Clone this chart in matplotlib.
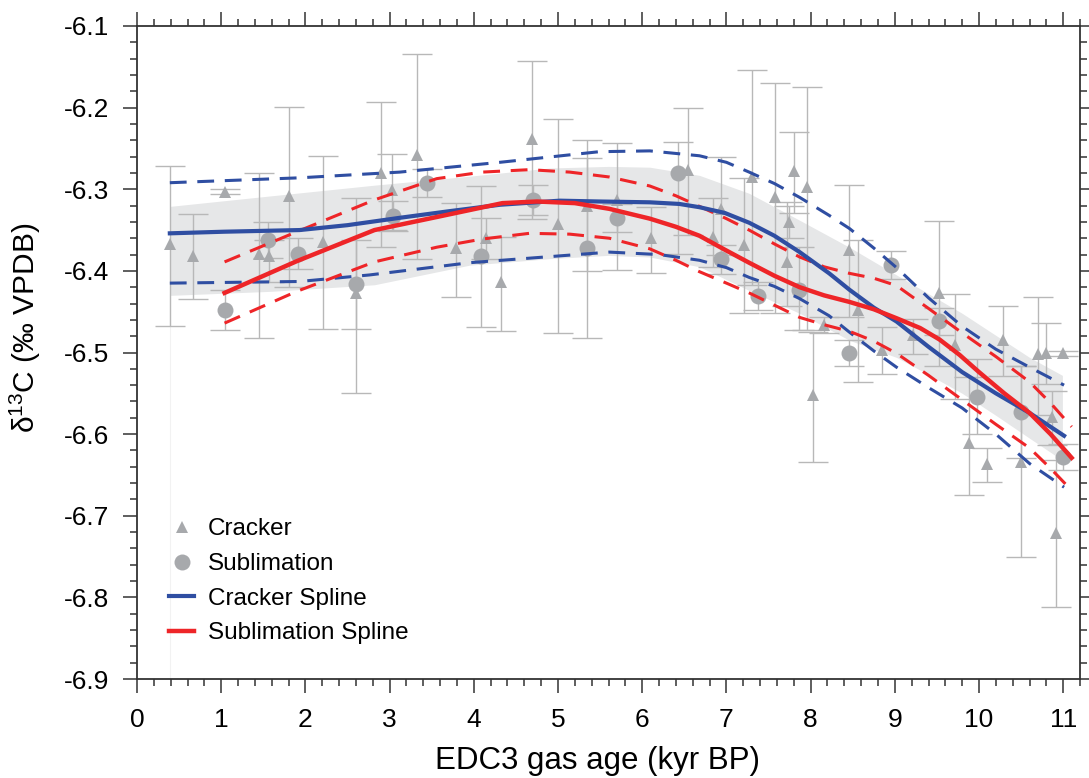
import numpy as np
import matplotlib
matplotlib.use("Agg")
import matplotlib.pyplot as plt
from matplotlib.ticker import MultipleLocator

plt.rcParams["font.family"] = ["Liberation Sans", "DejaVu Sans"]
plt.rcParams["mathtext.fontset"] = "custom"
plt.rcParams["mathtext.rm"] = "Liberation Sans"
plt.rcParams["mathtext.it"] = "Liberation Sans"

# Cracker measurements (age kyr, d13C, upper / lower error bar ends)
crk_x = [0.39, 0.66, 1.04, 1.45, 1.57, 1.80, 2.21, 2.60, 2.90, 3.03, 3.32, 3.79, 4.15, 4.32,
         4.69, 5.00, 5.35, 5.70, 6.11, 6.54, 6.84, 6.93, 7.21, 7.30, 7.58, 7.72, 7.74, 7.80,
         7.96, 8.03, 8.16, 8.46, 8.56, 8.85, 9.21, 9.52, 9.72, 9.88, 10.09, 10.28, 10.50,
         10.70, 10.79, 10.87, 10.92, 11.00]
crk_y = [-6.367, -6.382, -6.303, -6.379, -6.382, -6.308, -6.365, -6.427, -6.280, -6.301,
         -6.258, -6.372, -6.360, -6.414, -6.238, -6.343, -6.321, -6.313, -6.360, -6.276,
         -6.359, -6.324, -6.368, -6.285, -6.310, -6.389, -6.340, -6.278, -6.297, -6.552,
         -6.466, -6.375, -6.448, -6.497, -6.479, -6.427, -6.491, -6.611, -6.637, -6.485,
         -6.634, -6.502, -6.501, -6.579, -6.721, -6.501]
crk_hi = [-6.272, -6.330, -6.300, -6.280, -6.362, -6.199, -6.259, -6.362, -6.193, -6.257,
          -6.134, -6.317, -6.335, -6.359, -6.143, -6.214, -6.262, -6.243, -6.322, -6.200,
          -6.311, -6.261, -6.286, -6.154, -6.170, -6.316, -6.320, -6.230, -6.175, -6.475,
          -6.456, -6.295, -6.362, -6.469, -6.459, -6.339, -6.428, -6.530, -6.617, -6.443,
          -6.517, -6.432, -6.464, -6.547, -6.632, -6.498]
crk_lo = [-6.468, -6.435, -6.306, -6.482, -6.414, -6.420, -6.471, -6.549, -6.371, -6.350,
          -6.386, -6.432, -6.385, -6.474, -6.337, -6.476, -6.400, -6.399, -6.403, -6.356,
          -6.395, -6.380, -6.452, -6.417, -6.452, -6.443, -6.360, -6.329, -6.473, -6.634,
          -6.476, -6.457, -6.536, -6.526, -6.502, -6.517, -6.557, -6.674, -6.659, -6.529,
          -6.751, -6.577, -6.538, -6.613, -6.812, -6.504]

# Sublimation measurements
sub_x = [1.04, 1.55, 1.91, 2.60, 3.04, 3.44, 4.09, 4.70, 5.35, 5.70, 6.42, 6.93, 7.38,
         7.86, 8.46, 8.96, 9.52, 9.97, 10.50, 11.00]
sub_y = [-6.448, -6.362, -6.379, -6.416, -6.333, -6.292, -6.382, -6.313, -6.372, -6.335,
         -6.280, -6.386, -6.431, -6.424, -6.501, -6.393, -6.462, -6.555, -6.573, -6.628]
sub_hi = [-6.424, -6.340, -6.360, -6.311, -6.315, -6.275, -6.296, -6.295, -6.240, -6.318,
          -6.242, -6.368, -6.414, -6.371, -6.485, -6.376, -6.445, -6.508, -6.517, -6.612]
sub_lo = [-6.473, -6.384, -6.398, -6.471, -6.351, -6.309, -6.469, -6.331, -6.482, -6.352,
          -6.379, -6.404, -6.448, -6.473, -6.517, -6.410, -6.479, -6.600, -6.629, -6.644]

# Cracker spline and its confidence limits
cs_x = [0.39, 1.04, 1.93, 2.50, 3.12, 3.70, 4.31, 5.02, 5.49, 6.09, 6.44, 6.68, 6.98, 7.27,
        7.57, 7.87, 8.22, 8.46, 8.75, 9.02, 9.40, 9.80, 10.20, 10.60, 11.01]
cs_y = [-6.354, -6.352, -6.350, -6.344, -6.335, -6.327, -6.319, -6.314, -6.315, -6.316,
        -6.318, -6.322, -6.329, -6.341, -6.357, -6.377, -6.403, -6.423, -6.445, -6.462,
        -6.493, -6.524, -6.550, -6.574, -6.602]
cs_up_x = [0.39, 1.93, 3.12, 4.31, 5.49, 6.09, 6.68, 7.00, 7.27, 7.57, 7.87, 8.22, 8.46,
           8.75, 9.02, 9.40, 9.80, 10.20, 10.60, 11.01]
cs_up_y = [-6.292, -6.286, -6.279, -6.267, -6.254, -6.253, -6.259, -6.267, -6.279, -6.293,
           -6.310, -6.332, -6.348, -6.372, -6.396, -6.433, -6.468, -6.496, -6.518, -6.540]
cs_lo_x = [0.39, 1.93, 2.76, 3.95, 5.61, 6.20, 6.68, 7.00, 7.27, 7.57, 7.87, 8.22, 8.46,
           8.75, 9.02, 9.40, 9.80, 10.20, 10.60, 11.01]
cs_lo_y = [-6.415, -6.413, -6.405, -6.390, -6.377, -6.380, -6.387, -6.396, -6.408, -6.419,
           -6.434, -6.455, -6.475, -6.498, -6.518, -6.543, -6.568, -6.600, -6.636, -6.665]

# Sublimation spline and its confidence limits
ss_x = [1.04, 1.90, 2.82, 3.56, 4.34, 4.75, 5.20, 5.61, 6.09, 6.40, 6.68, 6.98, 7.27, 7.57,
        7.87, 8.16, 8.46, 8.75, 9.02, 9.30, 9.53, 9.77, 10.00, 10.30, 10.60, 10.85, 11.10]
ss_y = [-6.427, -6.388, -6.350, -6.334, -6.317, -6.315, -6.317, -6.324, -6.336, -6.346,
        -6.357, -6.374, -6.390, -6.406, -6.420, -6.430, -6.438, -6.447, -6.458, -6.470,
        -6.484, -6.503, -6.524, -6.550, -6.574, -6.600, -6.629]
ss_up_x = [1.04, 1.90, 2.82, 3.56, 4.10, 4.66, 5.14, 5.61, 6.09, 6.40, 6.68, 7.00, 7.27,
           7.57, 7.87, 8.16, 8.46, 8.75, 9.02, 9.40, 9.80, 10.20, 10.60, 10.85, 11.10]
ss_up_y = [-6.389, -6.352, -6.313, -6.287, -6.279, -6.276, -6.279, -6.285, -6.296, -6.308,
           -6.321, -6.336, -6.350, -6.367, -6.383, -6.395, -6.403, -6.409, -6.418, -6.446,
           -6.476, -6.505, -6.536, -6.562, -6.591]
ss_lo_x = [1.04, 1.90, 2.82, 3.56, 4.10, 4.66, 5.14, 5.61, 6.09, 6.40, 6.68, 7.00, 7.27,
           7.57, 7.87, 8.16, 8.46, 8.75, 9.02, 9.40, 9.80, 10.20, 10.60, 10.85, 11.10]
ss_lo_y = [-6.464, -6.425, -6.389, -6.371, -6.361, -6.354, -6.355, -6.360, -6.373, -6.387,
           -6.401, -6.415, -6.427, -6.442, -6.457, -6.466, -6.474, -6.486, -6.501, -6.528,
           -6.558, -6.588, -6.617, -6.642, -6.669]

# Grey envelope
band_x = [0.39, 1.60, 2.82, 3.95, 4.90, 5.60, 6.09, 6.68, 7.27, 7.87, 8.46, 9.02, 9.40, 9.80,
          10.20, 10.60, 10.99]
band_up = [-6.321, -6.308, -6.295, -6.284, -6.274, -6.272, -6.273, -6.283, -6.305, -6.338,
           -6.371, -6.405, -6.428, -6.452, -6.479, -6.506, -6.528]
band_lo = [-6.430, -6.425, -6.417, -6.393, -6.385, -6.381, -6.383, -6.395, -6.424, -6.452,
           -6.485, -6.506, -6.527, -6.550, -6.577, -6.605, -6.632]

BLUE = "#2f4ea2"
RED = "#ee2528"
GREY = "#a7a9ac"
BAR = "#b8b8b8"

fig = plt.figure(figsize=(10.89, 7.78), dpi=100)
ax = fig.add_axes([0.1258, 0.1272, 0.866, 0.8394])

ax.fill_between(band_x, band_lo, band_up, color="#e6e7e8", lw=0, zorder=1)
ax.plot([band_x[0], band_x[0]], [-6.9, band_lo[0]], color="#f2f2f2", lw=0.8, zorder=1)

cx = np.array(crk_x)
cy = np.array(crk_y)
ax.errorbar(cx, cy, yerr=[cy - np.array(crk_lo), np.array(crk_hi) - cy], fmt="none",
            ecolor=BAR, elinewidth=1.0, capsize=10.5, capthick=1.0, zorder=2)
sx = np.array(sub_x)
sy = np.array(sub_y)
ax.errorbar(sx, sy, yerr=[sy - np.array(sub_lo), np.array(sub_hi) - sy], fmt="none",
            ecolor=BAR, elinewidth=1.0, capsize=10.5, capthick=1.0, zorder=2)

ax.plot(cx, cy, ls="none", marker="^", ms=9, color=GREY, mew=0, zorder=3, label="Cracker")
ax.plot(sx, sy, ls="none", marker="o", ms=11.5, color=GREY, mew=0, zorder=3,
        label="Sublimation")

dash = (0, (5.5, 3.5))
ax.plot(cs_up_x, cs_up_y, color=BLUE, lw=2.2, ls=dash, zorder=4)
ax.plot(cs_lo_x, cs_lo_y, color=BLUE, lw=2.2, ls=dash, zorder=4)
ax.plot(ss_up_x, ss_up_y, color=RED, lw=2.2, ls=dash, zorder=4)
ax.plot(ss_lo_x, ss_lo_y, color=RED, lw=2.2, ls=dash, zorder=4)
ax.plot(cs_x, cs_y, color=BLUE, lw=3.0, zorder=5, label="Cracker Spline")
ax.plot(ss_x, ss_y, color=RED, lw=3.2, zorder=6, label="Sublimation Spline")

ax.set_xlim(0, 11.2)
ax.set_ylim(-6.9, -6.1)
ax.xaxis.set_major_locator(MultipleLocator(1))
ax.xaxis.set_minor_locator(MultipleLocator(0.2))
ax.yaxis.set_minor_locator(MultipleLocator(0.02))
ax.tick_params(which="both", direction="out", top=True, right=True, width=1.1,
               color="#333333", labelsize=19)
ax.tick_params(which="major", length=10)
ax.tick_params(which="minor", length=5)
ax.tick_params(axis="x", pad=11)
ax.tick_params(axis="y", pad=10)
yt = np.round(np.arange(-6.9, -6.05, 0.1), 1)
ax.set_yticks(yt)
ax.set_yticklabels([f"{v:.1f}" for v in yt])
for s in ax.spines.values():
    s.set_linewidth(1.3)
    s.set_color("#333333")

ax.set_xlabel("EDC3 gas age (kyr BP)", fontsize=22.5)
ax.xaxis.set_label_coords(0.488, -0.103)
ax.set_ylabel("δ$^{13}$C (‰ VPDB)", fontsize=21.5)
ax.yaxis.set_label_coords(-0.1, 0.5375)

ax.legend(loc="upper left", bbox_to_anchor=(0.034, 0.246), frameon=False, fontsize=17.5,
          handlelength=1.03, handletextpad=0.58, labelspacing=0.52, borderpad=0,
          borderaxespad=0)

fig.savefig("out.png", dpi=100)
